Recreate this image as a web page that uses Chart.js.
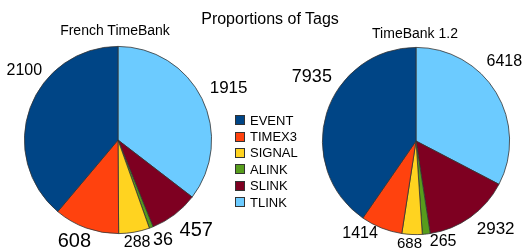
<!DOCTYPE html>
<html>
<head>
<meta charset="utf-8">
<script src="https://cdn.jsdelivr.net/npm/chart.js@4/dist/chart.umd.min.js"></script>
<style>
  html, body { margin: 0; padding: 0; background: #fff; }
  body { width: 523px; height: 248px; position: relative; overflow: hidden;
         font-family: "Liberation Sans", Arial, sans-serif; color: #000; }
  canvas { position: absolute; left: 0; top: 0; }
  .t { position: absolute; white-space: nowrap; line-height: 1; transform: translateX(-50%); }
  #legend { position: absolute; left: 235px; top: 112px; font-size: 13px; }
  #legend .row { height: 16.4px; display: flex; align-items: center; }
  #legend .sw { box-sizing: border-box; width: 10px; height: 10px; border: 1px solid #333; margin-right: 5px; }
</style>
</head>
<body>
<canvas id="pieFrench" width="523" height="248"></canvas>
<canvas id="pieTB" width="523" height="248"></canvas>
<div class="t" style="left:270px;top:11px;font-size:16px">Proportions of Tags</div>
<div class="t" style="left:115px;top:23px;font-size:14px">French TimeBank</div>
<div class="t" style="left:415px;top:26px;font-size:14px">TimeBank 1.2</div>
<div id="legend"></div>
<script>
// ---------------------------------------------------------------------------
// Data
// ---------------------------------------------------------------------------
const tagNames = ["EVENT", "TIMEX3", "SIGNAL", "ALINK", "SLINK", "TLINK"];
const tagColors = ["#004586", "#ff420e", "#ffd320", "#579d1c", "#7e0021", "#6ccbff"];
const frenchCounts = [2100, 608, 288, 36, 457, 1915];
const tb12Counts = [7935, 1414, 688, 265, 2932, 6418];

// label styling per tag: font size (px), angle nudge (deg), gap from rim (px)
const frenchLabelSize = [16, 20, 16, 18, 20, 17];
const frenchLabelNudge = [20, 2, 0, -3, -2, -2];
const frenchLabelGap = [11, 7, 3, 8, 13.5, 13];
const tb12LabelSize = [18, 16, 15, 16, 17, 16];
const tb12LabelNudge = [18, 7, 1, -8, -4, -14];
const tb12LabelGap = [14, 5, 3, 3, 12.5, 14];

// ---------------------------------------------------------------------------
// Value labels outside the slices
// ---------------------------------------------------------------------------
const outsideLabels = {
  id: "outsideLabels",
  afterDatasetsDraw(chart, args, opts) {
    const ctx = chart.ctx;
    const meta = chart.getDatasetMeta(0);
    const values = chart.data.datasets[0].data;
    ctx.save();
    ctx.fillStyle = "#000";
    ctx.textAlign = "center";
    ctx.textBaseline = "alphabetic";
    meta.data.forEach((arc, i) => {
      const p = arc.getProps(["x", "y", "startAngle", "endAngle", "outerRadius"], true);
      const a = (p.startAngle + p.endAngle) / 2 + opts.nudge[i] * Math.PI / 180;
      const size = opts.size[i];
      ctx.font = size + 'px "Liberation Sans", Arial, sans-serif';
      const txt = String(values[i]);
      const w = ctx.measureText(txt).width, h = size * 0.72;
      const dx = Math.cos(a), dy = Math.sin(a);
      const d = p.outerRadius + opts.gap[i];
      const x = p.x + d * dx + dx * w / 2;
      const y = p.y + d * dy + dy * h / 2;
      ctx.fillText(txt, x, y + h / 2);
    });
    ctx.restore();
  }
};

// slices run counter-clockwise from 12 o'clock, so feed Chart.js reversed order
const rev = a => a.slice().reverse();

function makePie(id, counts, sizes, nudges, gaps, pad) {
  return new Chart(document.getElementById(id), {
    type: "pie",
    data: {
      labels: rev(tagNames),
      datasets: [{
        data: rev(counts),
        backgroundColor: rev(tagColors),
        borderColor: "#333",
        borderWidth: 0.8,
      }]
    },
    options: {
      responsive: false,
      animation: false,
      events: [],
      layout: { padding: pad },
      plugins: {
        legend: { display: false },
        tooltip: { enabled: false },
        outsideLabels: { size: rev(sizes), nudge: rev(nudges), gap: rev(gaps) },
      }
    },
    plugins: [outsideLabels]
  });
}

makePie("pieFrench", frenchCounts, frenchLabelSize, frenchLabelNudge, frenchLabelGap,
  { left: 24, right: 311, top: 46, bottom: 14 });
makePie("pieTB", tb12Counts, tb12LabelSize, tb12LabelNudge, tb12LabelGap,
  { left: 322, right: 13, top: 47, bottom: 13 });

// shared legend
document.getElementById("legend").innerHTML = tagNames.map((n, i) =>
  `<div class="row"><span class="sw" style="background:${tagColors[i]}"></span>${n}</div>`
).join("");
</script>
</body>
</html>
